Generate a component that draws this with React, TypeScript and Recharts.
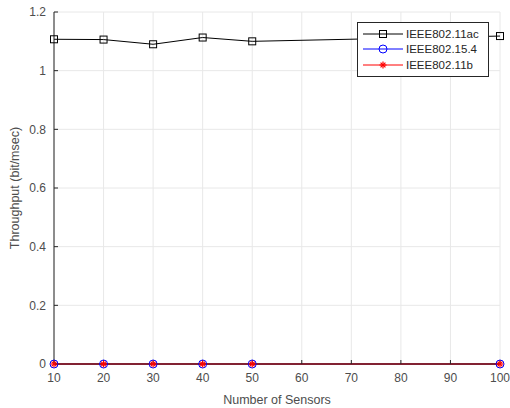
import React from 'react';
import {
  LineChart, Line, XAxis, YAxis, CartesianGrid, Label
} from 'recharts';

const sensors = [10, 20, 30, 40, 50, 100];
const ieee80211ac = [1.107, 1.106, 1.09, 1.113, 1.1, 1.118];
const ieee802154 = [0, 0, 0, 0, 0, 0];
const ieee80211b = [0, 0, 0, 0, 0, 0];

const xTicks = [10, 20, 30, 40, 50, 60, 70, 80, 90, 100];
const yTicks = [0, 0.2, 0.4, 0.6, 0.8, 1, 1.2];

const data = sensors.map((n, i) => ({
  n,
  ac: ieee80211ac[i],
  zb: ieee802154[i],
  b: ieee80211b[i],
}));

const FONT = '"Liberation Sans", Arial, sans-serif';
const AXIS = '#262626';
const TEXT = '#4d4d4d';

const SquareDot = (props: any) => {
  const { cx, cy } = props;
  if (cx == null || cy == null) return null;
  return <rect x={cx - 3.5} y={cy - 3.5} width={7} height={7} fill="none" stroke="#000" strokeWidth={1} />;
};

const CircleDot = (props: any) => {
  const { cx, cy } = props;
  if (cx == null || cy == null) return null;
  return <circle cx={cx} cy={cy} r={4} fill="none" stroke="#0000ff" strokeWidth={1} />;
};

const StarDot = (props: any) => {
  const { cx, cy } = props;
  if (cx == null || cy == null) return null;
  const r = 3.5;
  const d = r * 0.7;
  return (
    <g stroke="#ff0000" strokeWidth={1.2}>
      <line x1={cx - r} y1={cy} x2={cx + r} y2={cy} />
      <line x1={cx} y1={cy - r} x2={cx} y2={cy + r} />
      <line x1={cx - d} y1={cy - d} x2={cx + d} y2={cy + d} />
      <line x1={cx - d} y1={cy + d} x2={cx + d} y2={cy - d} />
    </g>
  );
};

const legendItems = [
  { name: 'IEEE802.11ac', color: '#000', Marker: SquareDot },
  { name: 'IEEE802.15.4', color: '#0000ff', Marker: CircleDot },
  { name: 'IEEE802.11b', color: '#ff0000', Marker: StarDot },
];

const LegendBox = () => (
  <div style={{
    position: 'absolute', left: 357, top: 22, width: 130, padding: '3px 0',
    background: '#fff', border: `1px solid ${AXIS}`,
    fontFamily: FONT, fontSize: 11.5, color: '#262626',
  }}>
    {legendItems.map(item => (
      <div key={item.name} style={{ display: 'flex', alignItems: 'center', height: 15.5 }}>
        <svg width={48} height={16} style={{ flex: 'none' }}>
          <line x1={5} y1={8} x2={45} y2={8} stroke={item.color} strokeWidth={1} />
          <item.Marker cx={25} cy={8} />
        </svg>
        <span>{item.name}</span>
      </div>
    ))}
  </div>
);

export default function App() {
  return (
    <div style={{ position: 'absolute', left: 0, top: 0, width: 510, height: 408, background: '#fff' }}>
      <LineChart width={510} height={408} data={data} margin={{ top: 12, right: 10, bottom: 0, left: 0 }}>
        <CartesianGrid stroke="#e8e8e8" strokeWidth={1} />
        <XAxis
          dataKey="n"
          type="number"
          domain={[10, 100]}
          ticks={xTicks}
          interval={0}
          stroke={AXIS}
          tickSize={-4}
          tickMargin={13}
          tick={{ fill: TEXT, fontSize: 12, fontFamily: FONT }}
          height={44}
        >
          <Label value="Number of Sensors" position="insideBottom" offset={4}
            style={{ fill: TEXT, fontSize: 12.5, fontFamily: FONT }} />
        </XAxis>
        <XAxis xAxisId="top" orientation="top" type="number" dataKey="n" domain={[10, 100]}
          ticks={xTicks} stroke={AXIS} tickSize={-4} tick={false} height={0} />
        <YAxis
          type="number"
          domain={[0, 1.2]}
          ticks={yTicks}
          interval={0}
          stroke={AXIS}
          tickSize={-4}
          tickMargin={12}
          tick={{ fill: TEXT, fontSize: 12, fontFamily: FONT }}
          width={54}
        >
          <Label value="Throughput (bit/msec)" angle={-90} position="insideLeft" offset={15}
            style={{ fill: TEXT, fontSize: 12.5, fontFamily: FONT, textAnchor: 'middle' }} />
        </YAxis>
        <YAxis yAxisId="right" orientation="right" type="number" domain={[0, 1.2]}
          ticks={yTicks} stroke={AXIS} tickSize={-4} tick={false} width={0} />
        <Line dataKey="ac" stroke="#000" strokeWidth={1} dot={<SquareDot />} isAnimationActive={false} />
        <Line dataKey="zb" stroke="#0000ff" strokeWidth={1} dot={<CircleDot />} isAnimationActive={false} />
        <Line dataKey="b" stroke="#ff0000" strokeWidth={1.5} dot={<StarDot />} isAnimationActive={false} />
      </LineChart>
      <LegendBox />
    </div>
  );
}
